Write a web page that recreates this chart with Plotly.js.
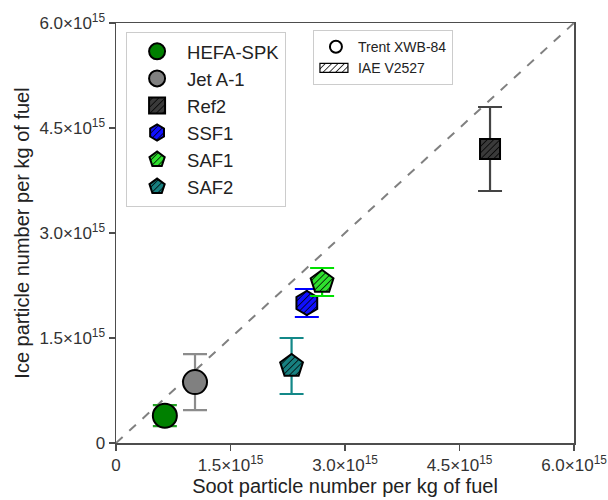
<!DOCTYPE html>
<html>
<head>
<meta charset="utf-8">
<script src="https://cdn.plot.ly/plotly-3.0.1.min.js"></script>
<style>
  html, body { margin: 0; padding: 0; background: #fff; }
  #chart { width: 608px; height: 500px; }
</style>
</head>
<body>
<svg id="hatchdefs" width="0" height="0" style="position:absolute;left:0;top:0">
  <defs id="hatchdefsInner"></defs>
</svg>
<div id="chart"></div>
<script>
// ---- data ----
const categories = ['HEFA-SPK', 'Jet A-1', 'Ref2', 'SSF1', 'SAF1', 'SAF2'];
const sootX = [0.64e15, 1.035e15, 4.90e15, 2.50e15, 2.70e15, 2.30e15];
const iceY = [0.39e15, 0.87e15, 4.20e15, 2.00e15, 2.30e15, 1.10e15];
const iceErr = [0.15e15, 0.40e15, 0.60e15, 0.20e15, 0.20e15, 0.40e15];
const fillColors = ['#008000', '#808080', '#3a3a3a', '#1010ff', '#2ee02e', '#178080'];
const errColors = ['#22a022', '#8c8c8c', '#444444', '#0000ff', '#00e000', '#138888'];
const symbols = ['circle', 'circle', 'square', 'hexagon', 'pentagon', 'pentagon'];
const sizes = [24, 24, 20, 24, 24, 24];
const hatched = [false, false, true, true, true, true];
const engineNames = ['Trent XWB-84', 'IAE V2527'];
const parityX = [0, 6e15];
const parityY = [0, 6e15];
const tickVals = [0, 1.5e15, 3.0e15, 4.5e15, 6.0e15];
const tickText = ['0', '1.5×10<sup>15</sup>', '3.0×10<sup>15</sup>', '4.5×10<sup>15</sup>', '6.0×10<sup>15</sup>'];

const FONT = 'Liberation Sans, Arial, sans-serif';
const traces = [];

traces.push({
  x: parityX, y: parityY, mode: 'lines', type: 'scatter',
  line: { color: '#808080', width: 2, dash: 'dash' },
  showlegend: false, hoverinfo: 'skip', name: 'parity'
});

categories.forEach((c, i) => {
  traces.push({
    x: [sootX[i]], y: [iceY[i]], type: 'scatter', mode: 'markers', name: c,
    legendgroup: 'g' + i, legend: 'legend',
    marker: { symbol: symbols[i], size: sizes[i], color: fillColors[i], line: { color: '#000', width: 2 } },
    error_y: { type: 'data', array: [iceErr[i]], visible: true, color: errColors[i], thickness: 2.2, width: 12 }
  });
});

traces.push({
  x: [null], y: [null], type: 'scatter', mode: 'markers', name: engineNames[0],
  legend: 'legend2', legendgroup: 'e0',
  marker: { symbol: 'circle-open', size: 12, color: '#000', line: { width: 2.5 } }
});
traces.push({
  x: [null], y: [null], type: 'scatter', mode: 'lines', name: engineNames[1],
  legend: 'legend2', legendgroup: 'e1',
  line: { color: '#000', width: 1.5 }
});

const axisCommon = {
  range: [0, 6e15], tickvals: tickVals, ticktext: tickText,
  showgrid: false, zeroline: false, showline: true, mirror: true,
  linecolor: '#4d4d4d', linewidth: 1.5, ticks: 'outside', ticklen: 6, tickwidth: 1.5, tickcolor: '#4d4d4d',
  tickfont: { family: FONT, size: 17, color: '#333' }
};

const layout = {
  width: 608, height: 500,
  margin: { l: 116, r: 34, t: 23, b: 57 },
  paper_bgcolor: '#fff', plot_bgcolor: '#fff',
  font: { family: FONT, color: '#222' },
  xaxis: Object.assign({}, axisCommon, {
    title: { text: 'Soot particle number per kg of fuel', font: { family: FONT, size: 20, color: '#222' }, standoff: 4 }
  }),
  yaxis: Object.assign({}, axisCommon, {
    title: { text: 'Ice particle number per kg of fuel', font: { family: FONT, size: 20, color: '#222' }, standoff: 4 }
  }),
  legend: {
    x: 0.022, y: 0.979, xanchor: 'left', yanchor: 'top',
    bgcolor: '#fff', bordercolor: '#cccccc', borderwidth: 1,
    font: { family: FONT, size: 18.5, color: '#222' },
    tracegroupgap: 0, itemsizing: 'trace', itemwidth: 50
  },
  legend2: {
    x: 0.43, y: 0.983, xanchor: 'left', yanchor: 'top',
    bgcolor: '#fff', bordercolor: '#cccccc', borderwidth: 1,
    font: { family: FONT, size: 14, color: '#222' },
    tracegroupgap: 0, itemsizing: 'constant', itemwidth: 34
  },
  showlegend: true
};

function makePattern(id, bg, fg) {
  const ns = 'http://www.w3.org/2000/svg';
  const defs = document.getElementById('hatchdefsInner');
  const p = document.createElementNS(ns, 'pattern');
  p.setAttribute('id', id);
  p.setAttribute('patternUnits', 'userSpaceOnUse');
  p.setAttribute('width', '4.5');
  p.setAttribute('height', '4.5');
  p.setAttribute('patternTransform', 'rotate(45)');
  const r = document.createElementNS(ns, 'rect');
  r.setAttribute('width', '4.5'); r.setAttribute('height', '4.5'); r.setAttribute('fill', bg);
  const l = document.createElementNS(ns, 'line');
  l.setAttribute('x1', '0'); l.setAttribute('y1', '-1'); l.setAttribute('x2', '0'); l.setAttribute('y2', '6');
  l.setAttribute('stroke', fg); l.setAttribute('stroke-width', '1.5');
  p.appendChild(r); p.appendChild(l);
  defs.appendChild(p);
}

Plotly.newPlot('chart', traces, layout, { displayModeBar: false, staticPlot: true }).then(gd => {
  categories.forEach((c, i) => { if (hatched[i]) makePattern('hatch' + i, fillColors[i], '#000'); });
  makePattern('hatchWhite', '#fff', '#000');
  gd.querySelectorAll('.scatterlayer .trace').forEach(g => {
    const d = g.__data__; if (!d || !d[0]) return;
    const idx = categories.indexOf(d[0].trace.name);
    if (idx >= 0 && hatched[idx]) {
      g.querySelectorAll('path.point').forEach(p => { p.style.fill = 'url(#hatch' + idx + ')'; });
    }
  });
  gd.querySelectorAll('.traces').forEach(g => {
    const d = g.__data__; if (!d || !d[0]) return;
    const name = d[0].trace.name;
    const idx = categories.indexOf(name);
    if (idx >= 0 && hatched[idx]) {
      g.querySelectorAll('path.scatterpts').forEach(p => { p.style.fill = 'url(#hatch' + idx + ')'; });
    }
    if (name === engineNames[1]) {
      g.querySelectorAll('path.js-line').forEach(p => {
        p.setAttribute('d', 'M6,-4.5h28v9h-28z');
        p.style.fill = 'url(#hatchWhite)';
        p.style.stroke = '#000';
        p.style.strokeWidth = '1.2px';
      });
    }
  });
});
</script>
</body>
</html>
